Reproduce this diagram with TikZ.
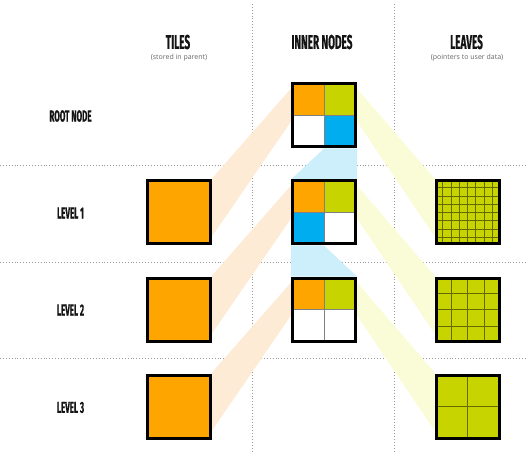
\documentclass[tikz,border=0pt]{standalone}
\usepackage{fontspec}
\setmainfont{Open Sans}
\newfontfamily\headfont{Fira Sans}[FakeStretch=0.5,FakeBold=0.6]
\usetikzlibrary{calc}
\definecolor{tileorange}{HTML}{FFA500}
\definecolor{leafgreen}{HTML}{C8D400}
\definecolor{nodeblue}{HTML}{00ADEF}
\definecolor{bandbeige}{HTML}{FDEBD5}
\definecolor{bandyellow}{HTML}{FAFCD7}
\definecolor{bandblue}{HTML}{CDEFFC}
\pgfdeclarelayer{bg}
\pgfdeclarelayer{mid}
\pgfsetlayers{bg,mid,main}
\tikzset{
  sq/.style={minimum size=63pt, inner sep=0pt, line width=3pt, draw=black},
  tilebox/.style={sq, fill=tileorange},
  dotl/.style={draw=black!40, line width=0.9pt, dash pattern=on 0.9pt off 2pt},
  hdr/.style={font=\headfont\bfseries\fontsize{20}{20}\selectfont, text=black!92},
  rowlbl/.style={font=\headfont\bfseries\fontsize{16}{16}\selectfont, text=black!92},
  sub/.style={font=\fontsize{7}{8}\selectfont, text=black!60},
  divider/.style={draw=black!50, line width=0.8pt},
  gridl/.style={draw=leafgreen!50!black, line width=0.9pt},
}
\begin{document}
\begin{tikzpicture}[x=1pt,y=-1pt]
\useasboundingbox (0,0) rectangle (527,454);
% headers
\node[hdr] (hTiles) at (178,42) {TILES};
\node[sub] (sTiles) at (179,58) {(stored in parent)};
\node[hdr] (hInner) at (322,42) {INNER NODES};
\node[hdr] (hLeaves) at (466.5,42) {LEAVES};
\node[sub] (sLeaves) at (467,58) {(pointers to user data)};
% row labels
\node[rowlbl] (rRoot) at (70.5,116) {ROOT NODE};
\node[rowlbl] (r1) at (70.5,213) {LEVEL 1};
\node[rowlbl] (r2) at (70.5,310) {LEVEL 2};
\node[rowlbl] (r3) at (70.5,407.5) {LEVEL 3};
% boxes
\node[sq] (n0) at (324,115.5) {};
\node[sq] (n1) at (324,212.5) {};
\node[sq] (n2) at (324,309.5) {};
\node[tilebox] (t1) at (179,212.5) {};
\node[tilebox] (t2) at (179,309.5) {};
\node[tilebox] (t3) at (179,406.5) {};
\node[sq] (l1) at (467.5,212.5) {};
\node[sq] (l2) at (467.5,309.5) {};
\node[sq] (l3) at (467.5,406.5) {};
% guide lines and bands
\begin{pgfonlayer}{bg}
  \coordinate (vA1) at (252,4); \coordinate (vA2) at (252,454);
  \coordinate (vB1) at (394,4); \coordinate (vB2) at (394,454);
  \draw[dotl] (vA1) -- (vA2);
  \draw[dotl] (vB1) -- (vB2);
  \foreach \yy [count=\i] in {165,262,358}{
    \coordinate (hl\i) at (0,\yy); \coordinate (hr\i) at (527,\yy);
    \draw[dotl] (hl\i) -- (hr\i);
  }
  \foreach \a/\b in {n0/t1,n1/t2,n2/t3}{
    \fill[bandbeige] ($(\b.north east)+(0,-1)$) -- ($(\a.north west)+(0,6)$)
      -- ($(\a.north west)+(0,39)$) -- ($(\b.north east)+(0,57)$) -- cycle;
  }
  \foreach \a/\b in {n0/l1,n1/l2,n2/l3}{
    \fill[bandyellow] ($(\b.north west)+(0,-1)$) -- ($(\a.north east)+(0,6)$)
      -- ($(\a.north east)+(0,39)$) -- ($(\b.north west)+(0,57)$) -- cycle;
  }
  \fill[bandblue] (n0.south) -- (n0.south east) -- (n1.north east) -- (n1.north west) -- cycle;
  \fill[bandblue] (n1.south west) -- (n1.south) -- (n2.north east) -- (n2.north west) -- cycle;
\end{pgfonlayer}
% cell fills
\begin{pgfonlayer}{mid}
  \foreach \n in {n0,n1,n2}{
    \fill[white] (\n.north west) rectangle (\n.south east);
    \fill[tileorange] (\n.north west) rectangle (\n.center);
    \fill[leafgreen] (\n.north east) rectangle (\n.center);
  }
  \fill[nodeblue] (n0.south east) rectangle (n0.center);
  \fill[nodeblue] (n1.south west) rectangle (n1.center);
  \foreach \n in {n0,n1,n2}{
    \draw[divider] (\n.north) -- (\n.south);
    \draw[divider] (\n.west) -- (\n.east);
  }
  \foreach \l/\k in {l1/8,l2/4,l3/2}{
    \fill[leafgreen] (\l.north west) rectangle (\l.south east);
    \pgfmathtruncatemacro{\km}{\k-1}
    \foreach \j in {1,...,\km}{
      \draw[gridl] ($(\l.north west)!\j/\k!(\l.north east)$) -- ($(\l.south west)!\j/\k!(\l.south east)$);
      \draw[gridl] ($(\l.north west)!\j/\k!(\l.south west)$) -- ($(\l.north east)!\j/\k!(\l.south east)$);
    }
  }
\end{pgfonlayer}
\end{tikzpicture}
\end{document}
